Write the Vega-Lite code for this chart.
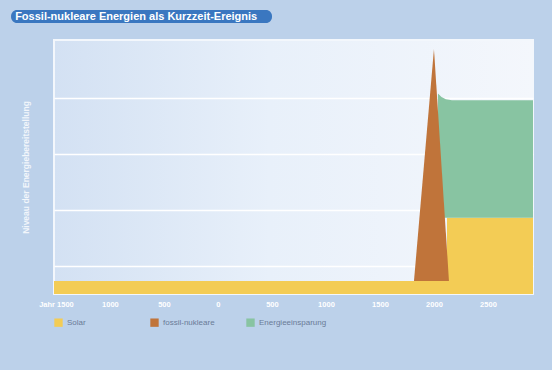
{
  "$schema": "https://vega.github.io/schema/vega-lite/v6.json",
  "background": "#bcd1ea",
  "padding": {"left": 11, "top": 10, "right": 19, "bottom": 50},
  "spacing": 16,
  "config": {"font": "Liberation Sans"},
  "resolve": {"scale": {"color": "independent", "x": "independent"}, "legend": {"color": "independent"}},
  "datasets": {
    "energie": [
      {"serie": "Solar", "jahr": -1518, "unten": 0, "oben": 0.23},
      {"serie": "Solar", "jahr": 2119, "unten": 0, "oben": 0.23},
      {"serie": "Solar", "jahr": 2121, "unten": 0, "oben": 1.36},
      {"serie": "Solar", "jahr": 2917, "unten": 0, "oben": 1.36},
      {"serie": "Energieeinsparung", "jahr": 2037, "unten": 1.36, "oben": 3.58},
      {"serie": "Energieeinsparung", "jahr": 2070, "unten": 1.36, "oben": 3.52},
      {"serie": "Energieeinsparung", "jahr": 2110, "unten": 1.36, "oben": 3.48},
      {"serie": "Energieeinsparung", "jahr": 2167, "unten": 1.36, "oben": 3.46},
      {"serie": "Energieeinsparung", "jahr": 2917, "unten": 1.36, "oben": 3.46},
      {"serie": "fossil-nukleare", "jahr": 1815, "unten": 0.23, "oben": 0.23},
      {"serie": "fossil-nukleare", "jahr": 2000, "unten": 0.23, "oben": 4.375},
      {"serie": "fossil-nukleare", "jahr": 2139, "unten": 0.23, "oben": 0.23}
    ]
  },
  "vconcat": [
    {
      "width": 218,
      "height": 13,
      "view": {"fill": null, "stroke": null},
      "data": {"values": [{"t": "Fossil-nukleare Energien als Kurzzeit-Ereignis"}]},
      "layer": [
        {
          "mark": {"type": "rect", "color": "#3a77c0", "cornerRadius": 6},
          "encoding": {
            "x": {"datum": -0.197, "type": "quantitative", "scale": {"domain": [0, 1], "nice": false, "zero": false}, "axis": null},
            "x2": {"datum": 1}
          }
        },
        {
          "mark": {"type": "text", "color": "white", "fontWeight": "bold", "fontSize": 11, "font": "Liberation Sans"},
          "encoding": {
            "x": {"datum": 0.377, "type": "quantitative"},
            "text": {"field": "t"}
          }
        }
      ]
    },
    {
      "width": 479,
      "height": 254,
      "view": {
        "fill": {"gradient": "linear", "x1": 0, "y1": 0, "x2": 1, "y2": 0,
          "stops": [{"offset": 0, "color": "#d3e1f3"}, {"offset": 0.45, "color": "#e8f0fa"}, {"offset": 1, "color": "#f4f7fc"}]},
        "stroke": "#f3f7fc",
        "strokeWidth": 2
      },
      "data": {"name": "energie"},
      "encoding": {
        "x": {"field": "jahr", "type": "quantitative",
          "scale": {"domain": [-1518, 2917], "nice": false, "zero": false},
          "axis": {"title": null, "values": [-1500, -1000, -500, 0, 500, 1000, 1500, 2000, 2500],
            "labelExpr": "datum.value == -1500 ? 'Jahr 1500' : format(abs(datum.value), 'd')",
            "grid": false, "ticks": false, "domain": false, "labelColor": "white", "labelFontSize": 7.5,
            "labelFontWeight": "bold", "labelPadding": 6}},
        "y": {"field": "oben", "type": "quantitative",
          "scale": {"domain": [0, 4.536], "nice": false},
          "axis": {"title": "Niveau der Energiebereitstellung", "values": [0.5, 1.5, 2.5, 3.5],
            "labels": false, "ticks": false, "domain": false, "grid": true,
            "gridColor": "white", "gridWidth": 1.5, "titleColor": "#f2f6fb", "titleFontSize": 8.5,
            "titleFontWeight": "bold", "titlePadding": 24}},
        "y2": {"field": "unten"},
        "color": {"field": "serie", "type": "nominal",
          "scale": {"domain": ["Solar", "fossil-nukleare", "Energieeinsparung"], "range": ["#f3cc55", "#c0743a", "#88c4a2"]},
          "legend": {"title": null, "orient": "bottom", "direction": "horizontal", "symbolType": "square",
            "symbolSize": 70, "symbolStrokeWidth": 0, "labelFontSize": 8, "labelColor": "#6a7b97",
            "gridAlign": "all", "columnPadding": 15, "offset": 10}}
      },
      "layer": [
        {"transform": [{"filter": "datum.serie == 'Solar'"}], "mark": {"type": "area", "clip": true}},
        {"transform": [{"filter": "datum.serie == 'Energieeinsparung'"}], "mark": {"type": "area", "clip": true}},
        {"transform": [{"filter": "datum.serie == 'fossil-nukleare'"}], "mark": {"type": "area", "clip": true}}
      ]
    }
  ]
}
